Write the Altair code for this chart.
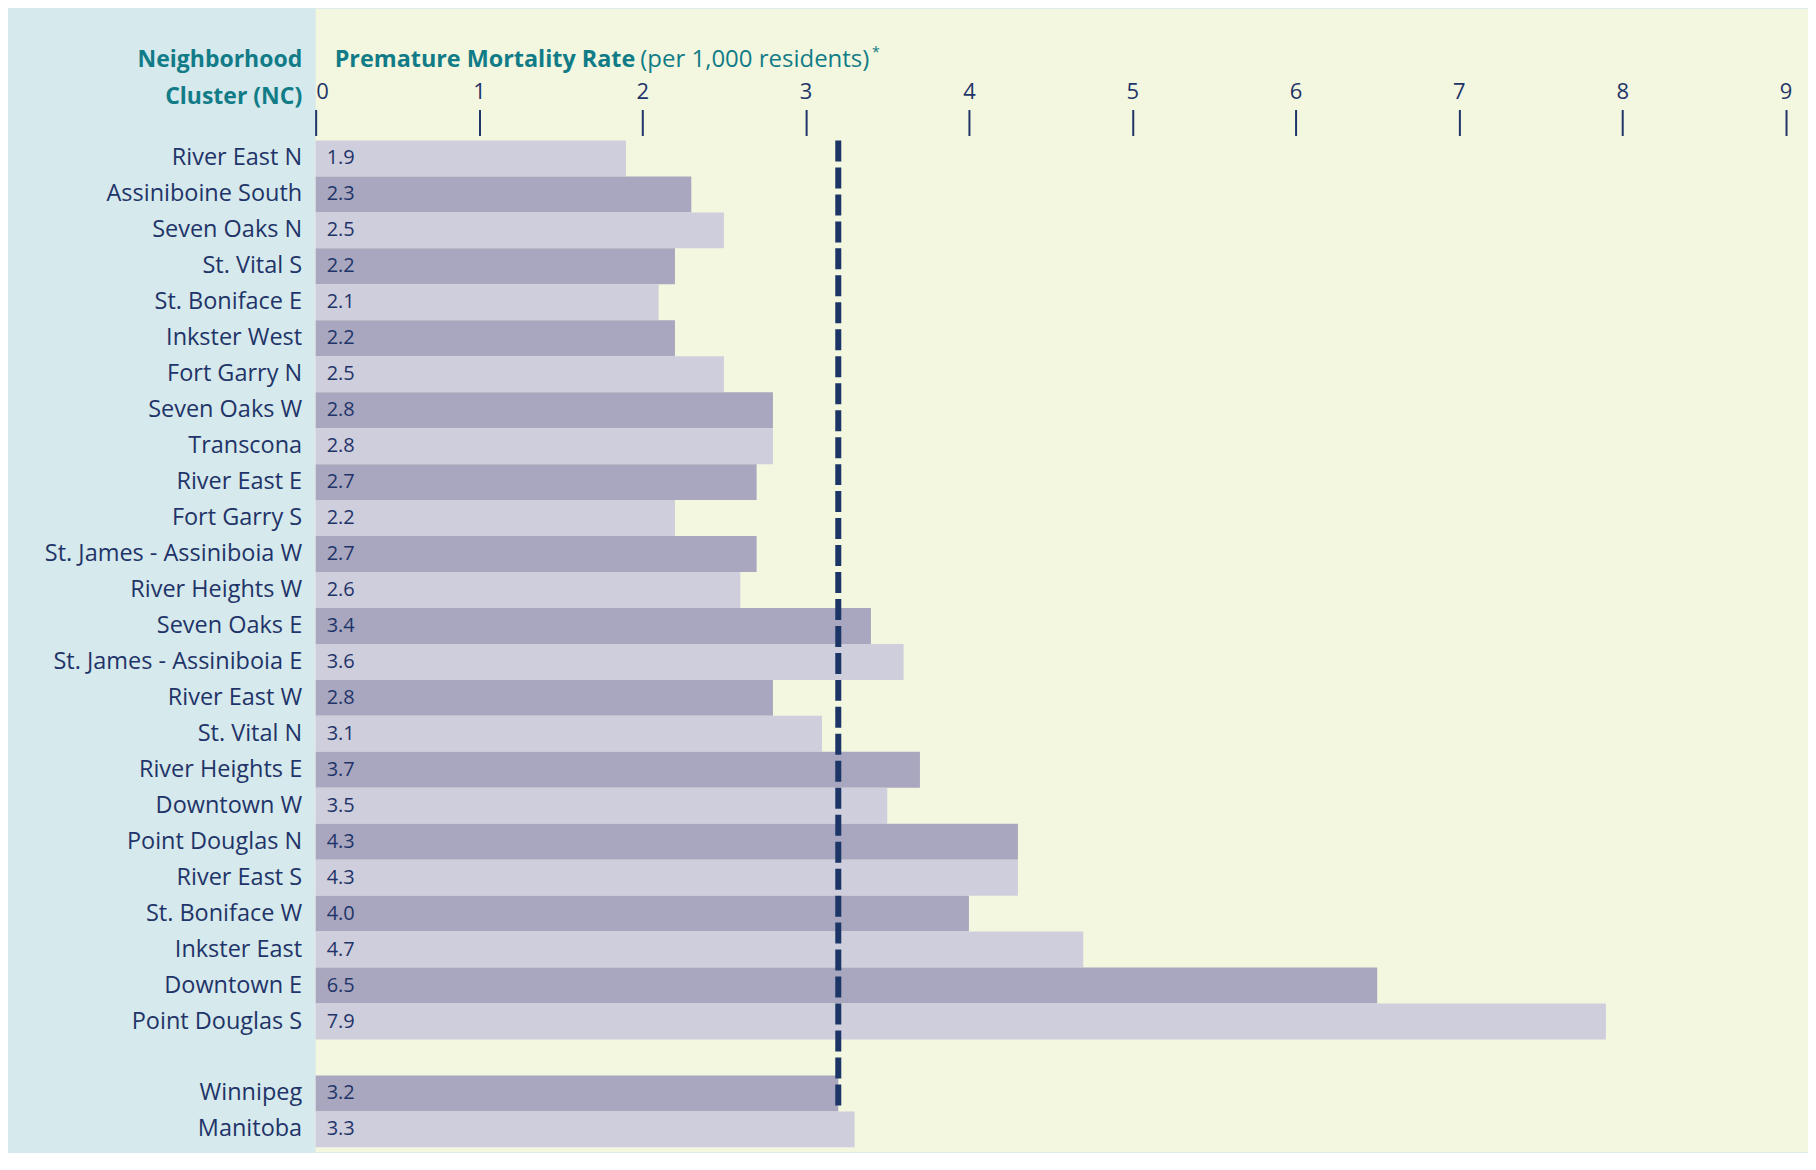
import altair as alt
import pandas as pd

# ---- data ----
names = [
    "River East N", "Assiniboine South", "Seven Oaks N", "St. Vital S", "St. Boniface E",
    "Inkster West", "Fort Garry N", "Seven Oaks W", "Transcona", "River East E",
    "Fort Garry S", "St. James - Assiniboia W", "River Heights W", "Seven Oaks E",
    "St. James - Assiniboia E", "River East W", "St. Vital N", "River Heights E",
    "Downtown W", "Point Douglas N", "River East S", "St. Boniface W", "Inkster East",
    "Downtown E", "Point Douglas S", "Winnipeg", "Manitoba",
]
rates = [
    1.9, 2.3, 2.5, 2.2, 2.1,
    2.2, 2.5, 2.8, 2.8, 2.7,
    2.2, 2.7, 2.6, 3.4,
    3.6, 2.8, 3.1, 3.7,
    3.5, 4.3, 4.3, 4.0, 4.7,
    6.5, 7.9, 3.2, 3.3,
]
n_clusters = 25
gap_label = " "
ref_name = "Winnipeg"
ref_rate = 3.2
tick_values = [0, 1, 2, 3, 4, 5, 6, 7, 8, 9]
y_title = ["Neighborhood", "Cluster (NC)"]
x_title_bold = ["Premature Mortality Rate"]
x_title_rest = ["(per 1,000 residents)"]
x_title_note = ["*"]

# ---- style ----
NAVY = "#1f3468"
TEAL = "#117c87"
LIGHT = "#cfcedd"
DARK = "#a8a7bf"
DASH = "#1b3567"
BLUE_BG = "#d6e9ec"
YELLOW_BG = "#f3f7df"
FONT = "Open Sans"

W = 1494
H = 1145
PX_PER_UNIT = 163.5
ROW_TOP = 132
ROW_H = 36.0

df = pd.DataFrame({
    "name": names,
    "rate": rates,
    "shade": ["light" if i % 2 == 0 else "dark" for i in range(len(names))],
})
domain = names[:n_clusters] + [gap_label] + names[n_clusters:]

x_scale = alt.Scale(domain=[0, W / PX_PER_UNIT], nice=False, zero=False)
y_scale = alt.Scale(
    domain=domain,
    range=[ROW_TOP, ROW_TOP + ROW_H * len(domain)],
    paddingInner=0,
    paddingOuter=0,
)

x_axis = alt.Axis(
    orient="top", values=tick_values, format="d", title=None, grid=False, domain=False,
    offset=-127, tickSize=26, tickWidth=2, tickColor=NAVY, labelPadding=6,
    labelFont=FONT, labelFontSize=22, labelColor=NAVY, labelFlush=True,
)
y_axis = alt.Axis(
    title=y_title, titleAngle=0, titleAlign="right", titleBaseline="alphabetic",
    titleX=-14, titleY=58, titleLineHeight=37, titleFont=FONT, titleFontSize=23,
    titleFontWeight="bold", titleColor=TEAL,
    ticks=False, domain=False, grid=False, labelPadding=14, labelLimit=500,
    labelFont=FONT, labelFontSize=23.5, labelColor=NAVY,
)

bars = alt.Chart(df).mark_bar(cornerRadius=0).encode(
    x=alt.X("rate:Q", scale=x_scale, axis=x_axis),
    y=alt.Y("name:N", scale=y_scale, axis=y_axis, sort=None),
    color=alt.Color("shade:N", scale=alt.Scale(domain=["light", "dark"], range=[LIGHT, DARK]), legend=None),
)

labels = alt.Chart(df).mark_text(
    align="left", baseline="middle", font=FONT, fontSize=20, color=NAVY
).encode(
    x=alt.value(11),
    y=alt.Y("name:N"),
    text=alt.Text("rate:Q", format=".1f"),
)

ref_df = pd.DataFrame({"rate": [ref_rate], "name": [names[0]], "name_end": [ref_name]})
ref_line = alt.Chart(ref_df).mark_rule(
    color=DASH, strokeWidth=6, strokeDash=[21, 6], strokeCap="butt"
).encode(
    x=alt.X("rate:Q"),
    y=alt.Y("name:N", bandPosition=0),
    y2=alt.Y2("name_end", bandPosition=1),
)

t_bold = alt.Chart(pd.DataFrame({"t": x_title_bold})).mark_text(
    align="left", baseline="alphabetic", font=FONT, fontSize=23.4, fontWeight="bold", color=TEAL
).encode(text="t:N", x=alt.value(19), y=alt.value(58))

t_rest = alt.Chart(pd.DataFrame({"t": x_title_rest})).mark_text(
    align="left", baseline="alphabetic", font=FONT, fontSize=24, color=TEAL
).encode(text="t:N", x=alt.value(325), y=alt.value(58))

t_note = alt.Chart(pd.DataFrame({"t": x_title_note})).mark_text(
    align="left", baseline="alphabetic", font=FONT, fontSize=14, color=TEAL
).encode(text="t:N", x=alt.value(557), y=alt.value(48))

chart = alt.layer(bars, labels, ref_line, t_bold, t_rest, t_note).properties(
    width=W,
    height=H,
    padding={"left": 308, "top": 0, "right": 0, "bottom": 0},
    autosize=alt.AutoSizeParams(type="none"),
    background=BLUE_BG,
).configure_view(fill=YELLOW_BG, stroke=None)

chart.save("out.html", embed_options={"renderer": "svg", "actions": False})
